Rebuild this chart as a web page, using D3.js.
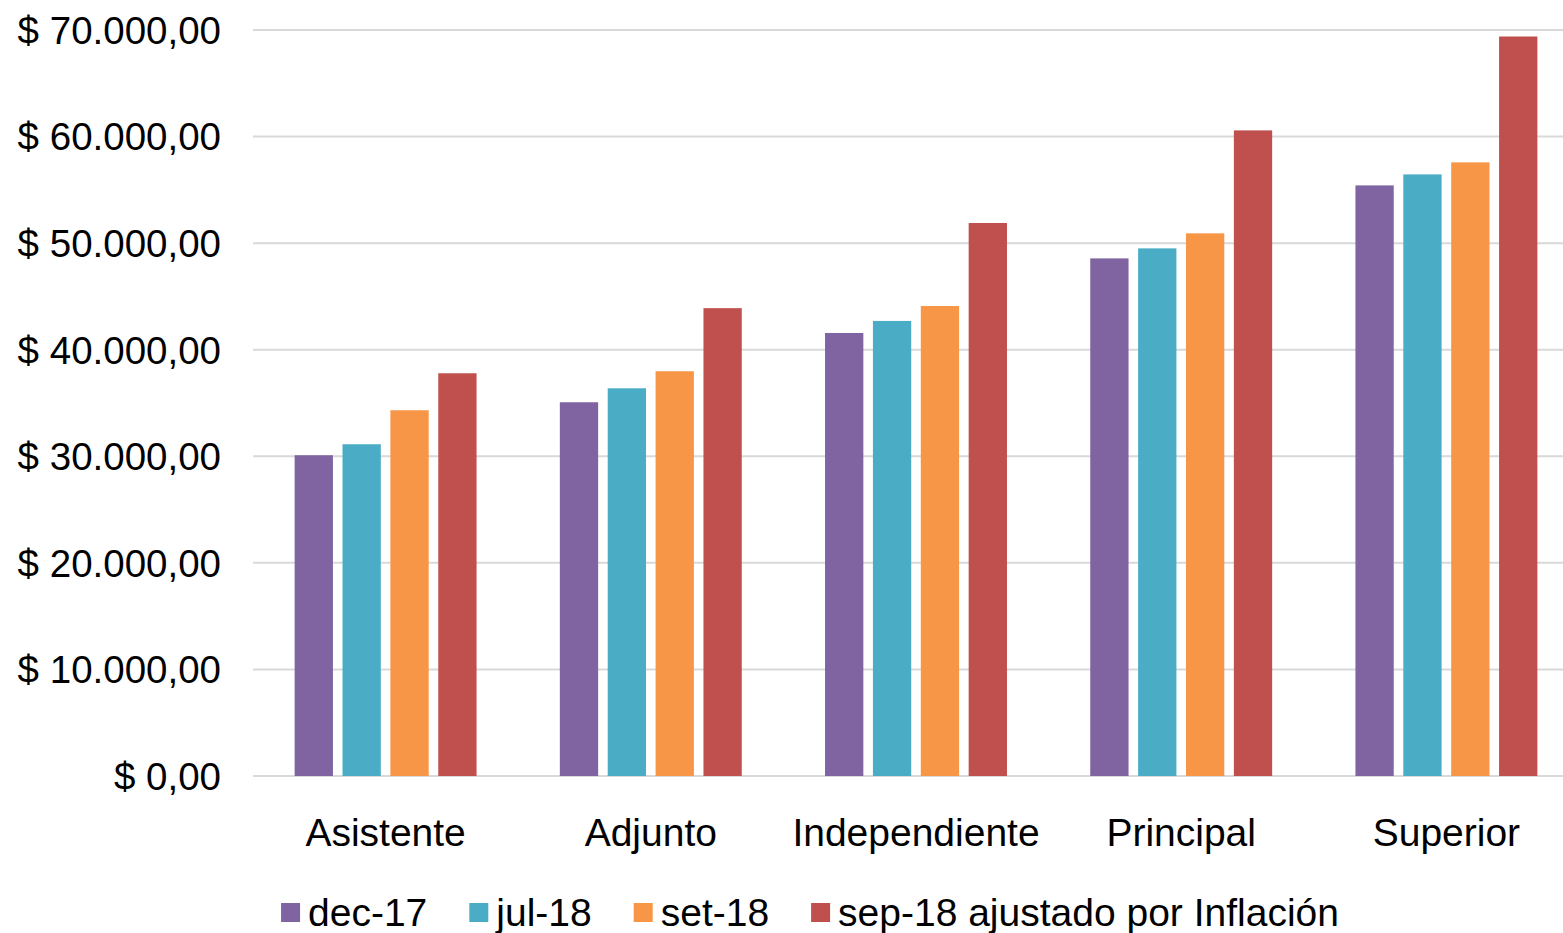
<!DOCTYPE html>
<meta charset="utf-8">
<style>
  body { margin: 0; background: #fff; }
  svg { display: block; }
  text { font-family: "Liberation Sans", Arial, sans-serif; fill: #000; }
  .grid line { stroke: #d9d9d9; stroke-width: 2px; }
</style>
<body>
<svg width="1563" height="933"></svg>
<script src="https://d3js.org/d3.v7.min.js"></script>
<script>

var categories = ["Asistente", "Adjunto", "Independiente", "Principal", "Superior"];
var series = ["dec-17", "jul-18", "set-18", "sep-18 ajustado por Inflación"];
var colors = ["#8064a2", "#4bacc6", "#f79646", "#c0504d"];

// one array per series, in category order
var dec17 = [30100, 35070, 41570, 48570, 55420];
var jul18 = [31130, 36380, 42700, 49510, 56450];
var set18 = [34320, 37980, 44100, 50920, 57580];
var sep18adj = [37790, 43900, 51890, 60580, 69390];

var yTicks = [0, 10000, 20000, 30000, 40000, 50000, 60000, 70000];

var values = [dec17, jul18, set18, sep18adj];

var svg = d3.select("svg");
var width = +svg.attr("width"),
    height = +svg.attr("height");

var margin = {top: 30, right: 0, bottom: 157, left: 253};

// plot area runs a bit past the right edge of the picture
var x0 = d3.scaleBand()
    .domain(categories)
    .range([margin.left, 1579])
    .paddingInner(0.314)
    .paddingOuter(0.157);

var x1 = d3.scaleBand()
    .domain(d3.range(series.length))
    .range([0, x0.bandwidth()])
    .paddingInner(0.2);

var y = d3.scaleLinear()
    .domain([0, 70000])
    .range([height - margin.bottom, margin.top]);

var fmt = d3.formatLocale({decimal: ",", thousands: ".", grouping: [3], currency: ["$ ", ""]}).format("$,.2f");

// gridlines
svg.append("g")
    .attr("class", "grid")
  .selectAll("line")
  .data(yTicks)
  .enter().append("line")
    .attr("x1", margin.left)
    .attr("x2", width - margin.right)
    .attr("y1", function(d) { return y(d); })
    .attr("y2", function(d) { return y(d); });

// y labels
svg.append("g")
  .selectAll("text")
  .data(yTicks)
  .enter().append("text")
    .attr("x", 221)
    .attr("y", function(d) { return y(d); })
    .attr("dy", "0.36em")
    .attr("text-anchor", "end")
    .style("font-size", "38.5px")
    .text(function(d) { return fmt(d); });

// bars
var groups = svg.append("g")
  .selectAll("g")
  .data(categories)
  .enter().append("g")
    .attr("transform", function(d) { return "translate(" + x0(d) + ",0)"; });

groups.selectAll("rect")
  .data(function(d, i) { return values.map(function(v, s) { return {s: s, v: v[i]}; }); })
  .enter().append("rect")
    .attr("x", function(d) { return x1(d.s); })
    .attr("width", x1.bandwidth())
    .attr("y", function(d) { return y(d.v); })
    .attr("height", function(d) { return y(0) - y(d.v); })
    .style("fill", function(d) { return colors[d.s]; });

// category labels
svg.append("g")
  .selectAll("text")
  .data(categories)
  .enter().append("text")
    .attr("x", function(d) { return x0(d) + x0.bandwidth() / 2; })
    .attr("y", 846)
    .attr("text-anchor", "middle")
    .style("font-size", "39px")
    .text(function(d) { return d; });

// legend
var legend = svg.append("g");
var items = legend.selectAll("g")
  .data(series)
  .enter().append("g");

items.append("rect")
    .attr("width", 19)
    .attr("height", 19)
    .attr("y", 903)
    .style("fill", function(d, i) { return colors[i]; });

items.append("text")
    .attr("x", 27)
    .attr("y", 926)
    .style("font-size", "39px")
    .text(function(d) { return d; });

var pos = 0;
items.each(function() {
  var w = this.getBBox().width;
  d3.select(this).attr("data-x", pos);
  pos += w + 42;
});
var total = pos - 42;
var start = 810 - total / 2;
items.attr("transform", function() {
  return "translate(" + (start + +this.getAttribute("data-x")) + ",0)";
});

</script>
</body>
